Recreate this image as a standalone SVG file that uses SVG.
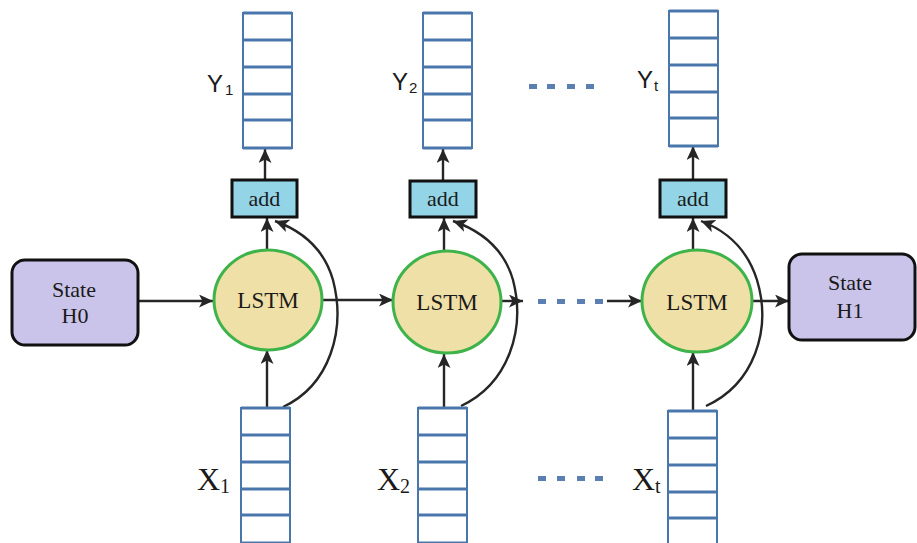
<svg xmlns="http://www.w3.org/2000/svg" width="917" height="543" viewBox="0 0 917 543">
  <style>
    .vec { fill: #ffffff; stroke: #4a77ab; stroke-width: 2; }
    .div { stroke: #4a77ab; stroke-width: 3; }
    .cell { fill: #efe0a8; stroke: #3db34a; stroke-width: 3; }
    .add { fill: #93d4e6; stroke: #111111; stroke-width: 3; }
    .state { fill: #cbc4ea; stroke: #111111; stroke-width: 3; }
    .serif { font-family: "Liberation Serif", "Times New Roman", serif; fill: #1a1a1a; }
    .sans { font-family: "Liberation Sans", Arial, sans-serif; fill: #1a1a1a; }
    .arrow { fill: none; stroke: #262626; stroke-width: 2.4; marker-end: url(#head); }
    .dash { fill: #5a7fb0; }
  </style>
  <defs>
    <marker id="head" markerUnits="userSpaceOnUse" markerWidth="16" markerHeight="14" refX="14" refY="6.5" orient="auto">
      <path d="M0,0 L14,6.5 L0,13 L3.5,6.5 z" fill="#262626"/>
    </marker>
    <g id="stack">
      <rect class="vec" x="0" y="0" width="49" height="135"/>
      <line class="div" x1="0" y1="0" x2="49" y2="0"/>
      <line class="div" x1="0" y1="27" x2="49" y2="27"/>
      <line class="div" x1="0" y1="54" x2="49" y2="54"/>
      <line class="div" x1="0" y1="81" x2="49" y2="81"/>
      <line class="div" x1="0" y1="107" x2="49" y2="107"/>
      <line class="div" x1="0" y1="135" x2="49" y2="135"/>
    </g>
  </defs>

  <rect width="917" height="543" fill="#ffffff"/>

  <!-- connectors -->
  <g id="connectors">
    <!-- state flow -->
    <line class="arrow" x1="138" y1="301" x2="213" y2="301"/>
    <line class="arrow" x1="323" y1="300" x2="393" y2="300"/>
    <line class="arrow" x1="502" y1="301" x2="523" y2="301"/>
    <line class="arrow" x1="607" y1="301" x2="642" y2="301"/>
    <line class="arrow" x1="752" y1="301" x2="789" y2="301"/>
    <!-- input to cell -->
    <line class="arrow" x1="267" y1="408" x2="267" y2="350"/>
    <line class="arrow" x1="444" y1="408" x2="444" y2="354"/>
    <line class="arrow" x1="693" y1="410" x2="693" y2="352"/>
    <!-- cell to add -->
    <line class="arrow" x1="267" y1="249" x2="267" y2="218"/>
    <line class="arrow" x1="444" y1="251" x2="444" y2="218"/>
    <line class="arrow" x1="693" y1="250" x2="693" y2="218"/>
    <!-- add to output -->
    <line class="arrow" x1="265" y1="180" x2="265" y2="149"/>
    <line class="arrow" x1="443" y1="181" x2="443" y2="149"/>
    <line class="arrow" x1="693" y1="180" x2="693" y2="146"/>
    <!-- skip connections from input to add -->
    <path class="arrow" d="M283,407 C330,385 346,330 333,280 C323,245 297,229 275,221"/>
    <path class="arrow" d="M461,406 C508,384 526,330 513,280 C503,245 476,229 453,221"/>
    <path class="arrow" d="M706,406 C754,384 772,330 757,280 C746,245 722,229 701,221"/>
  </g>

  <!-- ellipsis dashes -->
  <g id="dots-top">
    <rect class="dash" x="529" y="84" width="8" height="5"/>
    <rect class="dash" x="547" y="84" width="8" height="5"/>
    <rect class="dash" x="567" y="84" width="8" height="5"/>
    <rect class="dash" x="586" y="84" width="8" height="5"/>
  </g>
  <g id="dots-mid">
    <rect class="dash" x="538" y="299" width="8" height="5"/>
    <rect class="dash" x="557" y="299" width="8" height="5"/>
    <rect class="dash" x="577" y="299" width="8" height="5"/>
    <rect class="dash" x="595" y="299" width="8" height="5"/>
  </g>
  <g id="dots-bottom">
    <rect class="dash" x="538" y="476" width="8" height="5"/>
    <rect class="dash" x="557" y="476" width="8" height="5"/>
    <rect class="dash" x="577" y="476" width="8" height="5"/>
    <rect class="dash" x="595" y="476" width="8" height="5"/>
  </g>

  <!-- states -->
  <g id="state-h0">
    <rect class="state" x="12" y="260" width="126" height="85" rx="13"/>
    <text class="serif" x="74" y="297" font-size="22" text-anchor="middle">State</text>
    <text class="serif" x="75" y="323" font-size="22" text-anchor="middle">H0</text>
  </g>
  <g id="state-h1">
    <rect class="state" x="789" y="254" width="126" height="86" rx="13"/>
    <text class="serif" x="850" y="290" font-size="22" text-anchor="middle">State</text>
    <text class="serif" x="850" y="318" font-size="22" text-anchor="middle">H1</text>
  </g>

  <!-- LSTM cells -->
  <g id="lstm-1">
    <ellipse class="cell" cx="268" cy="300" rx="54" ry="50"/>
    <text class="serif" x="268" y="308" font-size="23" text-anchor="middle">LSTM</text>
  </g>
  <g id="lstm-2">
    <ellipse class="cell" cx="447" cy="302" rx="54" ry="51"/>
    <text class="serif" x="447" y="310" font-size="23" text-anchor="middle">LSTM</text>
  </g>
  <g id="lstm-3">
    <ellipse class="cell" cx="697" cy="301" rx="55" ry="51"/>
    <text class="serif" x="697" y="310" font-size="23" text-anchor="middle">LSTM</text>
  </g>

  <!-- add nodes -->
  <g id="add-1">
    <rect class="add" x="232" y="180" width="65" height="37"/>
    <text class="serif" x="264.5" y="206" font-size="22" text-anchor="middle">add</text>
  </g>
  <g id="add-2">
    <rect class="add" x="410" y="181" width="66" height="36"/>
    <text class="serif" x="443" y="206" font-size="22" text-anchor="middle">add</text>
  </g>
  <g id="add-3">
    <rect class="add" x="660" y="180" width="66" height="37"/>
    <text class="serif" x="693" y="206" font-size="22" text-anchor="middle">add</text>
  </g>

  <!-- outputs -->
  <g id="y-1">
    <use href="#stack" x="243" y="13"/>
    <text class="sans" x="207" y="92" font-size="24">Y<tspan font-size="15" dx="2" dy="3">1</tspan></text>
  </g>
  <g id="y-2">
    <use href="#stack" x="423" y="13"/>
    <text class="sans" x="392" y="90" font-size="24">Y<tspan font-size="15" dx="1" dy="3">2</tspan></text>
  </g>
  <g id="y-t">
    <use href="#stack" x="669" y="11"/>
    <text class="sans" x="637" y="88" font-size="24">Y<tspan font-size="15" dx="1" dy="3">t</tspan></text>
  </g>

  <!-- inputs -->
  <g id="x-1">
    <use href="#stack" x="241" y="408"/>
    <text class="serif" x="197" y="490" font-size="32">X<tspan font-size="20" dy="3">1</tspan></text>
  </g>
  <g id="x-2">
    <use href="#stack" x="418" y="408"/>
    <text class="serif" x="377" y="490" font-size="32">X<tspan font-size="20" dy="3">2</tspan></text>
  </g>
  <g id="x-t">
    <use href="#stack" x="668" y="411"/>
    <text class="serif" x="632" y="490" font-size="32">X<tspan font-size="20" dy="3">t</tspan></text>
  </g>
</svg>
